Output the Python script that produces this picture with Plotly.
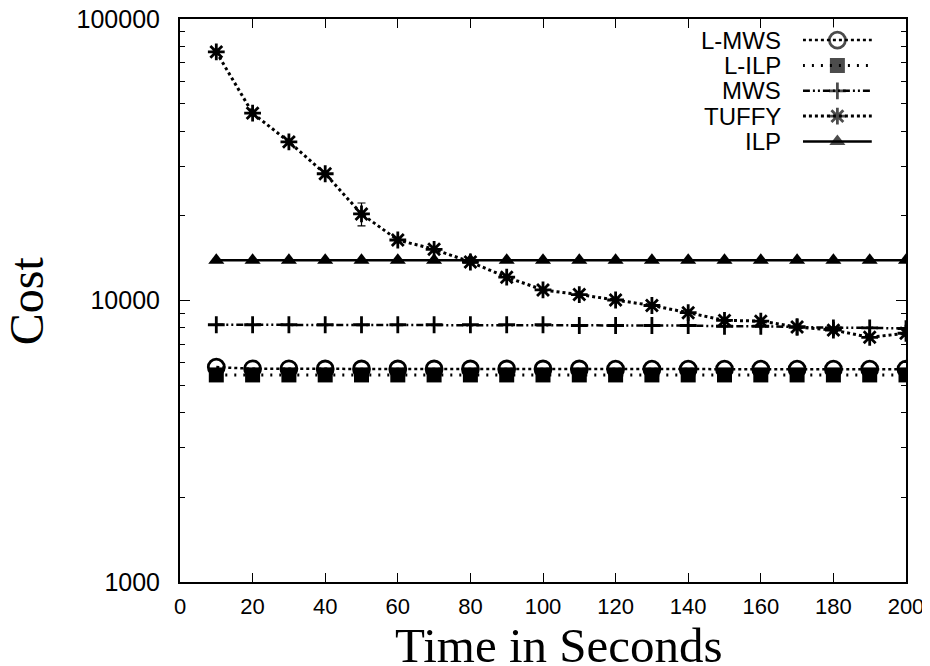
import plotly.graph_objects as go

x_vals = [10, 20, 30, 40, 50, 60, 70, 80, 90, 100, 110, 120, 130, 140, 150, 160, 170, 180, 190, 200]
l_mws = [5800, 5720, 5720, 5710, 5710, 5710, 5710, 5710, 5710, 5710, 5710, 5700, 5700, 5700, 5700, 5700, 5700, 5700, 5700, 5700]
l_ilp = [5440, 5440, 5440, 5440, 5440, 5440, 5440, 5440, 5440, 5440, 5440, 5440, 5440, 5440, 5440, 5440, 5440, 5440, 5440, 5440]
mws = [8200, 8200, 8200, 8200, 8200, 8200, 8200, 8200, 8200, 8200, 8150, 8150, 8150, 8150, 8100, 8100, 8050, 8000, 8000, 7950]
tuffy = [76400, 46300, 36600, 28200, 20300, 16400, 15200, 13700, 12100, 10900, 10500, 10040, 9600, 9050, 8500, 8450, 8050, 7850, 7400, 7650]
tuffy_err = [0, 0, 0, 0, 1900, 0, 0, 0, 0, 0, 0, 0, 0, 0, 0, 0, 0, 0, 0, 0]
ilp = [13900] * 20

series_names = ["L-MWS", "L-ILP", "MWS", "TUFFY", "ILP"]
x_ticks = [0, 20, 40, 60, 80, 100, 120, 140, 160, 180, 200]
y_ticks = [1000, 10000, 100000]
y_minor = [2000, 3000, 4000, 5000, 6000, 7000, 8000, 9000,
           20000, 30000, 40000, 50000, 60000, 70000, 80000, 90000]

styles = {
    "L-MWS": dict(dash="3px,3px", width=2.5, symbol="circle-open", size=16, mlw=2.8),
    "L-ILP": dict(dash="2px,7px", width=3, symbol="square", size=15, mlw=0),
    "MWS": dict(dash="7px,3px,2px,3px,2px,3px", width=2.5, symbol="cross-thin-open", size=12, mlw=2.8),
    "TUFFY": dict(dash="3px,3px", width=3, symbol="asterisk-open", size=14, mlw=2.8),
    "ILP": dict(dash="solid", width=2.5, symbol="triangle-up", size=14, mlw=0),
}
data = {"L-MWS": l_mws, "L-ILP": l_ilp, "MWS": mws, "TUFFY": tuffy, "ILP": ilp}

fig = go.Figure()
for name in ["ILP", "MWS", "TUFFY", "L-MWS", "L-ILP"]:
    s = styles[name]
    kw = {}
    if name == "TUFFY":
        kw["error_y"] = dict(type="data", array=tuffy_err, visible=True, color="black", thickness=1.2, width=4)
    fig.add_trace(go.Scatter(
        x=x_vals, y=data[name], mode="lines+markers", name=name, showlegend=False,
        line=dict(color="black", width=s["width"], dash=s["dash"]),
        marker=dict(symbol=s["symbol"], size=s["size"], color="black",
                    line=dict(color="black", width=s["mlw"])),
        **kw))

# custom legend samples on hidden axes
for i, name in enumerate(series_names):
    s = styles[name]
    row = i + 1
    fig.add_trace(go.Scatter(
        x=[0, 0.5, 1], y=[row, row, row], mode="lines+markers", showlegend=False,
        xaxis="x2", yaxis="y2", hoverinfo="skip",
        line=dict(color="black", width=s["width"], dash=s["dash"]),
        marker=dict(symbol=s["symbol"], size=[0, s["size"], 0], color="black",
                    line=dict(color="black", width=s["mlw"]))))
    fig.add_annotation(x=0.831, y=row, xref="paper", yref="y2", text=name, showarrow=False,
                       xanchor="right", yanchor="middle",
                       font=dict(family="Liberation Sans, Arial", size=24, color="black"))

fig.add_annotation(x=-0.211, y=0.5, xref="paper", yref="paper", text="Cost", showarrow=False,
                   textangle=-90, xanchor="center", yanchor="middle", borderpad=0,
                   font=dict(family="Liberation Serif, Times New Roman", size=48, color="black"))
fig.add_annotation(x=0.522, y=-0.062, xref="paper", yref="paper", text="Time in Seconds", showarrow=False,
                   xanchor="center", yanchor="top", borderpad=0,
                   font=dict(family="Liberation Serif, Times New Roman", size=49, color="black"))

fig.update_layout(
    width=930, height=666,
    margin=dict(l=172, r=32, t=11, b=92, autoexpand=False),
    paper_bgcolor="white", plot_bgcolor="white",
    showlegend=False,
    font=dict(family="Liberation Sans, Arial", size=23, color="black"),
    xaxis=dict(range=[0, 200], tickmode="array", tickvals=x_ticks, ticks="inside", ticklen=9,
               tickwidth=1.2, tickcolor="black", showline=True, linecolor="black", linewidth=2,
               mirror="ticks", showgrid=False, zeroline=False, ticklabelstandoff=4, automargin=False,
               ticklabeloverflow="allow",
               tickfont=dict(family="Liberation Sans, Arial", size=22)),
    yaxis=dict(type="log", range=[3, 5], tickmode="array", tickvals=y_ticks,
               ticktext=[str(v) for v in y_ticks], ticks="inside", ticklen=10,
               tickwidth=1.2, tickcolor="black", showline=True, linecolor="black", linewidth=2,
               mirror="ticks", showgrid=False, zeroline=False, ticklabelstandoff=13, automargin=False,
               ticklabeloverflow="allow",
               tickfont=dict(family="Liberation Sans, Arial", size=25),
               minor=dict(tickmode="array", tickvals=y_minor, ticks="inside", ticklen=5,
                          tickwidth=1.2, tickcolor="black", showgrid=False)),
    xaxis2=dict(domain=[0.858, 0.953], range=[0, 1], anchor="y2", visible=False, fixedrange=True),
    yaxis2=dict(domain=[0.76, 0.985], range=[5.5, 0.5], anchor="x2", visible=False, fixedrange=True),
)

fig.write_html("out.html")
